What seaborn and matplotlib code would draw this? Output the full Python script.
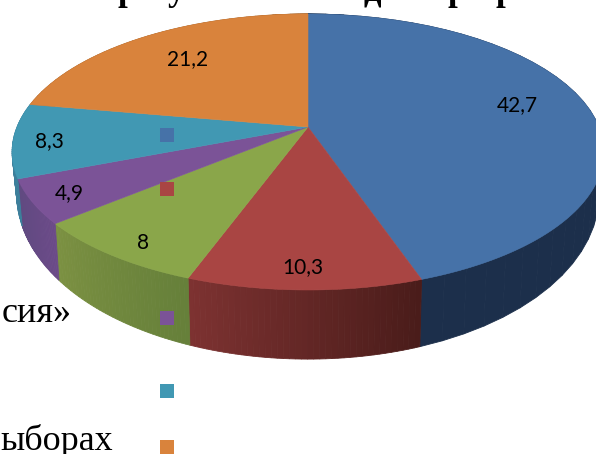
import numpy as np
import pandas as pd
import seaborn as sns
import matplotlib.pyplot as plt

# Values as printed on the chart (they do not add up to 100)
values = [42.7, 10.3, 8, 4.9, 8.3, 21.2]
value_labels = ['42,7', '10,3', '8', '4,9', '8,3', '21,2']

top_colors = ['#4672a8', '#a94543', '#8aa64a', '#7b5397', '#4198b3', '#d9833c']
wall_left = ['#1c2f4b', '#7d3231', '#7c9142', '#5f4a80', '#3d7f9b', '#a0622c']
wall_right = ['#1c2f4b', '#4a1c1a', '#66803a', '#6b4a88', '#3d7f9b', '#a0622c']

label_x = [517, 303, 143, 69, 49, 188]
label_y = [105, 267, 243, 193, 141, 59]

legend_x = [167] * 6
legend_y = [135, 189, 254, 318, 391, 447]

# Pieces of the surrounding page text, cut off by the crop
page_text = ['сия»', 'ыборах']
page_x = [72, 113]
page_y = [322, 450]
title_bits = ['р', 'у', 'д', 'р', 'р']
title_x = [127, 176, 372, 457, 505]

# Perspective of the disc, in pixels
CX, CY = 308, 127
RX, RY = 291, 110.5
K = 0.181


def project(u, v):
    w = 1 + K * v
    return CX + RX * u / w, (CY - RY * v) / w


def project_floor(u, v):
    x, y = project(u, v)
    depth = np.clip(34.5 - 34.6 * v, 0, None)
    return CX + (x - CX) * 0.985, y + depth


def blend(c1, c2, t):
    a = np.array(plt.matplotlib.colors.to_rgb(c1))
    b = np.array(plt.matplotlib.colors.to_rgb(c2))
    return tuple(a + (b - a) * t)


sns.set_theme(style='white')
plt.rcParams['font.family'] = ['Lato', 'DejaVu Sans']

fig, ax = plt.subplots(figsize=(5.96, 4.54), dpi=100)
fig.subplots_adjust(0, 0, 1, 1)

# pie gives the angles, the wedges are then redrawn tilted
wedges, _ = ax.pie(values, startangle=90, counterclock=False)
angles = [(w.theta1, w.theta2) for w in wedges]
for w in wedges:
    w.remove()

# side walls
for i, (t1, t2) in enumerate(angles):
    steps = np.radians(np.linspace(t1, t2, 40))
    for j in range(len(steps) - 1):
        a = steps[j:j + 2]
        # angle grows left to right along the front of the disc
        t = j / 38
        u, v = np.cos(a), np.sin(a)
        xt, yt = project(u, v)
        xb, yb = project_floor(u, v)
        c = blend(wall_left[i], wall_right[i], t)
        ax.fill(np.r_[xt, xb[::-1]], np.r_[yt, yb[::-1]], color=c, lw=0.6, zorder=1)

# top face
for i, (t1, t2) in enumerate(angles):
    a = np.radians(np.linspace(t1, t2, 120))
    x, y = project(np.cos(a), np.sin(a))
    ax.fill(np.r_[CX, x], np.r_[CY, y], color=top_colors[i], lw=0.4, zorder=2)

for x, y, s in zip(label_x, label_y, value_labels):
    ax.text(x, y, s, ha='center', va='center', fontsize=15, color='black', zorder=5)

markers = pd.DataFrame({'x': legend_x, 'y': legend_y, 'slice': value_labels})
sns.scatterplot(data=markers, x='x', y='y', hue='slice', palette=top_colors,
                marker='s', s=100, linewidth=0, legend=False, ax=ax, zorder=4)

for s, x, y in zip(page_text, page_x, page_y):
    ax.text(x, y, s, ha='right', va='baseline', fontsize=26, color='black',
            family='Liberation Serif')
for s, x in zip(title_bits, title_x):
    ax.text(x, 0.5, s, ha='center', va='baseline', fontsize=25, color='black',
            family='Liberation Serif', fontweight='bold')

ax.set_aspect('auto')
ax.set_xlim(0, 596)
ax.set_ylim(454, 0)
ax.set_xlabel('')
ax.set_ylabel('')
ax.axis('off')

fig.savefig('out.png', dpi=100)
